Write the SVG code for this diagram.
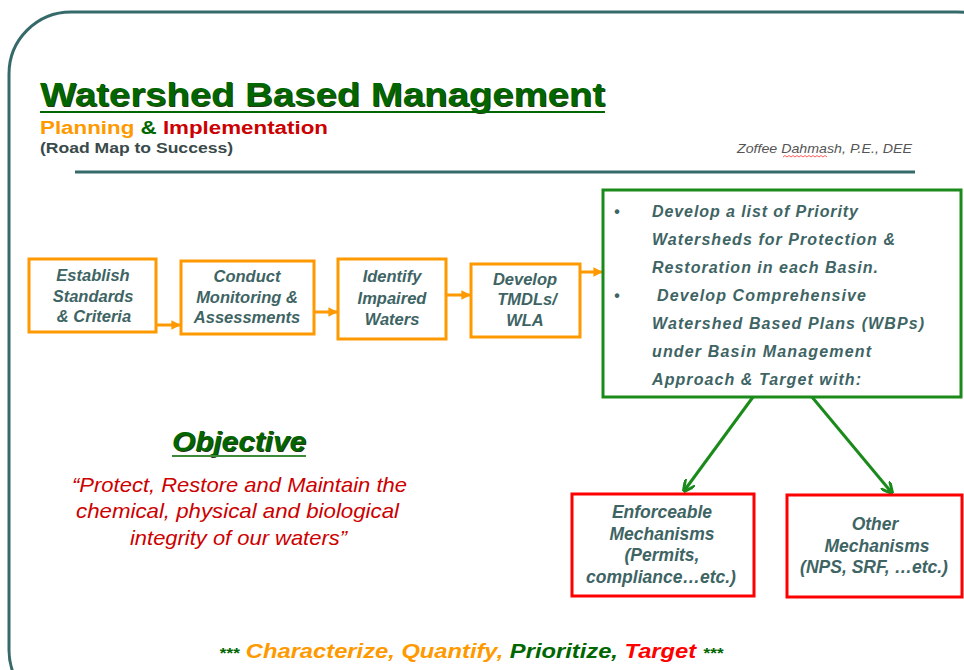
<svg xmlns="http://www.w3.org/2000/svg" width="964" height="670" viewBox="0 0 964 670">
  <style>
    .frame { fill: none; stroke: #366a6a; stroke-width: 3; }
    .step { fill: #ffffff; stroke: #ff9900; stroke-width: 3; }
    .plan { fill: #ffffff; stroke: #1a8a1a; stroke-width: 3; }
    .mech { fill: #ffffff; stroke: #ff0000; stroke-width: 3; }
    .lbl { font-family: "Liberation Sans", Arial, sans-serif; font-weight: bold; font-style: italic; font-size: 16.5px; fill: #3e6464; text-anchor: middle; }
    .mlbl { font-family: "Liberation Sans", Arial, sans-serif; font-weight: bold; font-style: italic; font-size: 17.5px; fill: #3e6464; text-anchor: middle; }
    .blt { font-family: "Liberation Sans", Arial, sans-serif; font-weight: bold; font-style: italic; font-size: 16px; fill: #3e6464; }
    .orange-flow { stroke: #ff9900; stroke-width: 3; fill: none; }
    .green-flow { stroke: #1a8a1a; stroke-width: 3; fill: none; }
    .hdr { font-family: "Liberation Sans", Arial, sans-serif; font-weight: bold; }
  </style>
  <defs>
    <marker id="arrOrange" viewBox="0 0 10 10" refX="9" refY="5" markerWidth="3.2" markerHeight="3.2" orient="auto">
      <path d="M0,0 L10,5 L0,10 z" fill="#ff9900"/>
    </marker>
    <marker id="arrGreen" viewBox="0 0 10 10" refX="9" refY="5" markerWidth="4" markerHeight="4" orient="auto">
      <path d="M0,0 L10,5 L0,10" fill="none" stroke="#1a8a1a" stroke-width="2.5"/>
    </marker>
  </defs>

  <rect width="964" height="670" fill="#ffffff"/>

  <!-- page frame and rule -->
  <rect class="frame" x="9" y="12" width="1010" height="700" rx="62" ry="62"/>
  <line x1="75" y1="172" x2="915" y2="172" stroke="#366a6a" stroke-width="3"/>

  <!-- heading -->
  <g id="heading">
    <text class="hdr" x="41" y="107" font-size="34" fill="#2a3a10" textLength="565" lengthAdjust="spacingAndGlyphs">Watershed Based Management</text>
    <text class="hdr" x="40" y="106" font-size="34" fill="#006600" textLength="565" lengthAdjust="spacingAndGlyphs">Watershed Based Management</text>
    <line x1="40" y1="112" x2="605" y2="112" stroke="#006600" stroke-width="2"/>
    <text class="hdr" x="40" y="134" font-size="18" textLength="288" lengthAdjust="spacingAndGlyphs"><tspan fill="#ff9900">Planning</tspan><tspan fill="#006600"> &amp; </tspan><tspan fill="#cc0000">Implementation</tspan></text>
    <text class="hdr" x="40" y="153" font-size="14" fill="#3a4a4a" textLength="193" lengthAdjust="spacingAndGlyphs">(Road Map to Success)</text>
    <text x="737" y="153" font-family="Liberation Sans, Arial, sans-serif" font-style="italic" font-size="13" fill="#555555" textLength="175" lengthAdjust="spacingAndGlyphs">Zoffee Dahmash, P.E., DEE</text>
    <path d="M783,157 l2,-1.5 l2,1.5 l2,-1.5 l2,1.5 l2,-1.5 l2,1.5 l2,-1.5 l2,1.5 l2,-1.5 l2,1.5 l2,-1.5 l2,1.5 l2,-1.5 l2,1.5 l2,-1.5 l2,1.5 l2,-1.5 l2,1.5 l2,-1.5 l2,1.5 l2,-1.5 l2,1.5" fill="none" stroke="#ff3333" stroke-width="0.8"/>
  </g>

  <!-- connectors -->
  <g id="connectors">
    <line class="orange-flow" x1="156" y1="325" x2="180" y2="325" marker-end="url(#arrOrange)"/>
    <line class="orange-flow" x1="314" y1="312" x2="337" y2="312" marker-end="url(#arrOrange)"/>
    <line class="orange-flow" x1="446" y1="295" x2="470" y2="295" marker-end="url(#arrOrange)"/>
    <line class="orange-flow" x1="580" y1="272" x2="602" y2="272" marker-end="url(#arrOrange)"/>
    <line class="green-flow" x1="753" y1="397" x2="684" y2="491" marker-end="url(#arrGreen)"/>
    <line class="green-flow" x1="812" y1="397" x2="892" y2="493" marker-end="url(#arrGreen)"/>
  </g>

  <!-- process steps -->
  <g id="establish">
    <rect class="step" x="29" y="259" width="127" height="73"/>
    <text class="lbl" x="93" y="281">Establish</text>
    <text class="lbl" x="93" y="302">Standards</text>
    <text class="lbl" x="94" y="322">&amp; Criteria</text>
  </g>
  <g id="monitoring">
    <rect class="step" x="181" y="261" width="133" height="73"/>
    <text class="lbl" x="247" y="282">Conduct</text>
    <text class="lbl" x="247" y="303">Monitoring &amp;</text>
    <text class="lbl" x="247" y="323">Assessments</text>
  </g>
  <g id="impaired">
    <rect class="step" x="338" y="259" width="108" height="80"/>
    <text class="lbl" x="392" y="282">Identify</text>
    <text class="lbl" x="392" y="304">Impaired</text>
    <text class="lbl" x="392" y="325">Waters</text>
  </g>
  <g id="tmdl">
    <rect class="step" x="471" y="264" width="109" height="73"/>
    <text class="lbl" x="525" y="285">Develop</text>
    <text class="lbl" x="527" y="305">TMDLs/</text>
    <text class="lbl" x="525" y="326">WLA</text>
  </g>

  <!-- basin planning box -->
  <g id="basin-plan">
    <rect class="plan" x="603" y="190" width="358" height="207"/>
    <text class="blt" x="614" y="217">•</text>
    <text class="blt" x="652" y="217" textLength="206" lengthAdjust="spacing">Develop a list of Priority</text>
    <text class="blt" x="652" y="245" textLength="243" lengthAdjust="spacing">Watersheds for Protection &amp;</text>
    <text class="blt" x="652" y="273" textLength="226" lengthAdjust="spacing">Restoration in each Basin.</text>
    <text class="blt" x="614" y="301">•</text>
    <text class="blt" x="657" y="301" textLength="209" lengthAdjust="spacing">Develop Comprehensive</text>
    <text class="blt" x="652" y="329" textLength="272" lengthAdjust="spacing">Watershed Based Plans (WBPs)</text>
    <text class="blt" x="652" y="357" textLength="219" lengthAdjust="spacing">under Basin Management</text>
    <text class="blt" x="652" y="385" textLength="209" lengthAdjust="spacing">Approach &amp; Target with:</text>
  </g>

  <!-- mechanisms -->
  <g id="enforceable">
    <rect class="mech" x="572" y="494" width="182" height="102"/>
    <text class="mlbl" x="662" y="518">Enforceable</text>
    <text class="mlbl" x="662" y="540">Mechanisms</text>
    <text class="mlbl" x="662" y="561">(Permits,</text>
    <text class="mlbl" x="661" y="583">compliance…etc.)</text>
  </g>
  <g id="other">
    <rect class="mech" x="787" y="495" width="175" height="102"/>
    <text class="mlbl" x="875" y="530">Other</text>
    <text class="mlbl" x="877" y="552">Mechanisms</text>
    <text class="mlbl" x="874" y="573">(NPS, SRF, …etc.)</text>
  </g>

  <!-- objective -->
  <g id="objective">
    <text x="173" y="452" font-family="Liberation Sans, Arial, sans-serif" font-weight="bold" font-style="italic" font-size="28" fill="#2a3a10" textLength="134" lengthAdjust="spacingAndGlyphs">Objective</text>
    <text x="172" y="451" font-family="Liberation Sans, Arial, sans-serif" font-weight="bold" font-style="italic" font-size="28" fill="#006600" textLength="134" lengthAdjust="spacingAndGlyphs">Objective</text>
    <line x1="172" y1="456" x2="306" y2="456" stroke="#3a8a3a" stroke-width="2"/>
    <g font-family="Liberation Sans, Arial, sans-serif" font-style="italic" font-size="21" fill="#cc0000" lengthAdjust="spacingAndGlyphs">
      <text x="72" y="492" textLength="335" lengthAdjust="spacingAndGlyphs">“Protect, Restore and Maintain the</text>
      <text x="76" y="518" textLength="323" lengthAdjust="spacingAndGlyphs">chemical, physical and biological</text>
      <text x="130" y="545" textLength="217" lengthAdjust="spacingAndGlyphs">integrity of our waters”</text>
    </g>
  </g>

  <!-- closing slogan -->
  <text x="219" y="658" font-family="Liberation Sans, Arial, sans-serif" font-weight="bold" font-style="italic" font-size="20.5" textLength="504" lengthAdjust="spacingAndGlyphs"><tspan fill="#006600" font-size="15">***</tspan><tspan fill="#ff9900"> Characterize, Quantify, </tspan><tspan fill="#006600">Prioritize, </tspan><tspan fill="#ff0000">Target </tspan><tspan fill="#006600" font-size="15">***</tspan></text>
</svg>
